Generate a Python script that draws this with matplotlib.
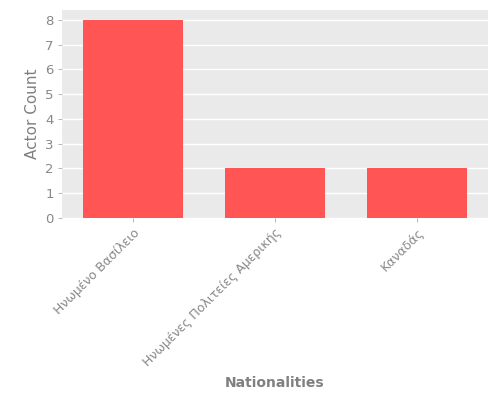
import matplotlib
matplotlib.use("Agg")
import matplotlib.pyplot as plt

categories = ["Ηνωμένο Βασίλειο", "Ηνωμένες Πολιτείες Αμερικής", "Καναδάς"]
counts = [8, 2, 2]

fig = plt.figure(figsize=(5, 4), dpi=100)
ax = fig.add_axes([0.124, 0.455, 0.852, 0.52])
ax.set_facecolor("#EAEAEA")
for s in ax.spines.values():
    s.set_visible(False)
ax.yaxis.grid(True, color="white", linewidth=1.0)
ax.set_axisbelow(True)
ax.bar(range(len(categories)), counts, width=0.7, color="#FF5555")
ax.set_xticks(range(len(categories)))
ax.set_xticklabels(categories, rotation=45, ha="right", rotation_mode="anchor", fontsize=9, color="#888888")
ax.set_yticks(range(0, 9))
ax.tick_params(axis="both", length=3, width=0.6, color="#AAAAAA", pad=3)
ax.tick_params(axis="y", labelsize=9.5, labelcolor="#888888")
ax.set_xlim(-0.5, 2.5)
ax.set_ylim(0, 8.4)
ax.set_xlabel("Nationalities", fontsize=10, color="#808080", fontweight="bold", labelpad=5)
ax.set_ylabel("Actor Count", fontsize=11, color="#808080")
fig.savefig("out.png", dpi=100)
